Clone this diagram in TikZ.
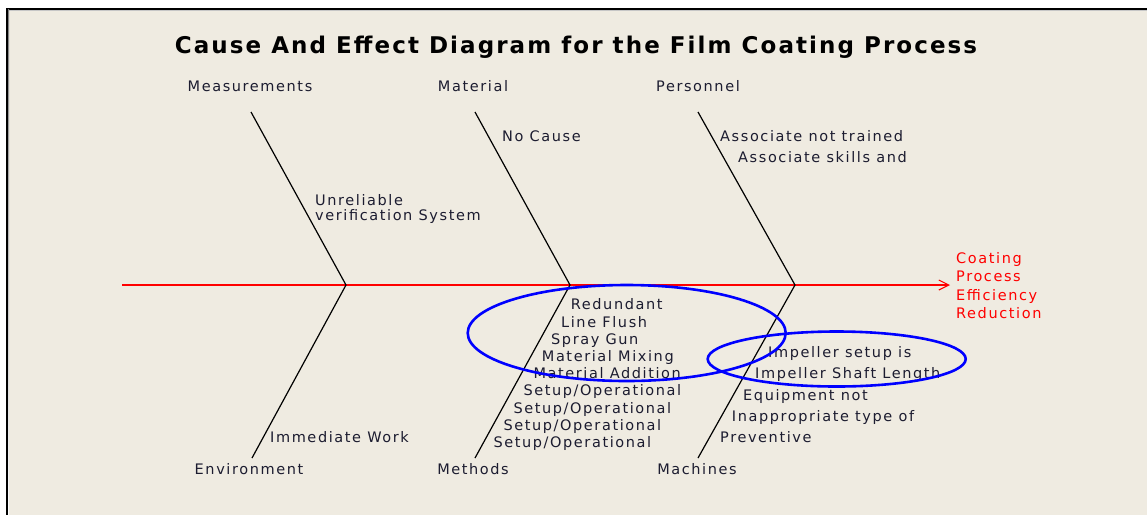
\documentclass[tikz,border=0pt]{standalone}
\usepackage{fontspec}
\usetikzlibrary{arrows.meta}
\newfontfamily\lblfamily{DejaVu Sans}[LetterSpace=11]
\newfontfamily\ttlfamily{DejaVu Sans}[LetterSpace=9]
\definecolor{paper}{RGB}{239,235,225}
\definecolor{ink}{RGB}{28,28,48}
\definecolor{shade}{RGB}{140,140,140}
\begin{document}
\begin{tikzpicture}[x=1pt,y=-1pt,
  lbl/.style={font=\lblfamily\fontsize{14.5}{16}\selectfont, text=ink, inner sep=0pt},
  cat/.style={lbl, anchor=base},
  cause/.style={lbl, anchor=base west},
  effect/.style={lbl, text=red, anchor=base west},
  bone/.style={black, line width=1.2pt},
  spine/.style={red, line width=1.1pt, -{Straight Barb[length=10pt,width=10pt,line width=1.1pt]}},
  ring/.style={blue, line width=2.6pt}]
\useasboundingbox (0,0) rectangle (1147,515);
% window frame
\fill[white] (0,0) rectangle (1147,515);
\fill[paper] (6,8) rectangle (1147,515);
\fill[black] (6,7.5) rectangle (1147,9.5);
\fill[black] (5.7,7.5) rectangle (8,515);
\fill[shade] (8,9.5) rectangle (1147,10.4);
\fill[shade] (8,9.5) rectangle (9,515);

% title
\node[font=\ttlfamily\bfseries\fontsize{23}{27}\selectfont, text=black, anchor=base, inner sep=0pt] (title) at (576,53) {Cause And Effect Diagram for the Film Coating Process};

% spine
\coordinate (tail) at (122,285);
\coordinate (head) at (950,285);
\draw[spine] (tail) -- (head);

% bone joints and ends
\coordinate (j1) at (346,285);
\coordinate (j2) at (570,285);
\coordinate (j3) at (795,285);
\coordinate (measEnd) at (251,112);
\coordinate (envEnd) at (252,458);
\coordinate (matEnd) at (475,112);
\coordinate (methEnd) at (475,458);
\coordinate (persEnd) at (698,112);
\coordinate (machEnd) at (698,458);
\draw[bone] (measEnd) -- (j1) -- (envEnd);
\draw[bone] (matEnd) -- (j2) -- (methEnd);
\draw[bone] (persEnd) -- (j3) -- (machEnd);

% category labels
\node[cat] (meas) at (250,91) {Measurements};
\node[cat] (mat) at (473,91) {Material};
\node[cat] (pers) at (698,91) {Personnel};
\node[cat] (env) at (249,474) {Environment};
\node[cat] (meth) at (473,474) {Methods};
\node[cat] (mach) at (697,474) {Machines};

% causes
\node[cause] (c1a) at (315,205) {Unreliable};
\node[cause] (c1b) at (315,220) {verification System};
\node[cause] (c2) at (270,442) {Immediate Work};
\node[cause] (c3) at (502,141) {No Cause};
\node[cause] (c4a) at (720,141) {Associate not trained};
\node[cause] (c4b) at (738,162) {Associate skills and};

\node[cause] (m1) at (570.7,309) {Redundant};
\node[cause] (m2) at (561,327) {Line Flush};
\node[cause] (m3) at (551,344) {Spray Gun};
\node[cause] (m4) at (541.7,361) {Material Mixing};
\node[cause] (m5) at (533.3,378) {Material Addition};
\node[cause] (m6) at (523.3,395) {Setup/Operational};
\node[cause] (m7) at (513.3,413) {Setup/Operational};
\node[cause] (m8) at (503.3,430) {Setup/Operational};
\node[cause] (m9) at (493.3,447) {Setup/Operational};

\node[cause] (k1) at (768,357.5) {Impeller setup is};
\node[cause] (k2) at (755,378) {Impeller Shaft Length};
\node[cause] (k3) at (743,400) {Equipment not};
\node[cause] (k4) at (731.7,421) {Inappropriate type of};
\node[cause] (k5) at (720,442) {Preventive};

% effect
\node[effect] (e1) at (956,263) {Coating};
\node[effect] (e2) at (956,281) {Process};
\node[effect] (e3) at (956,300) {Efficiency};
\node[effect] (e4) at (956,318) {Reduction};

% highlight rings
\coordinate (ringA) at (626.7,333);
\coordinate (ringB) at (836.7,359);
\draw[ring] (ringA) ellipse [x radius=159pt, y radius=48pt];
\draw[ring] (ringB) ellipse [x radius=129pt, y radius=27.5pt];
\end{tikzpicture}
\end{document}
